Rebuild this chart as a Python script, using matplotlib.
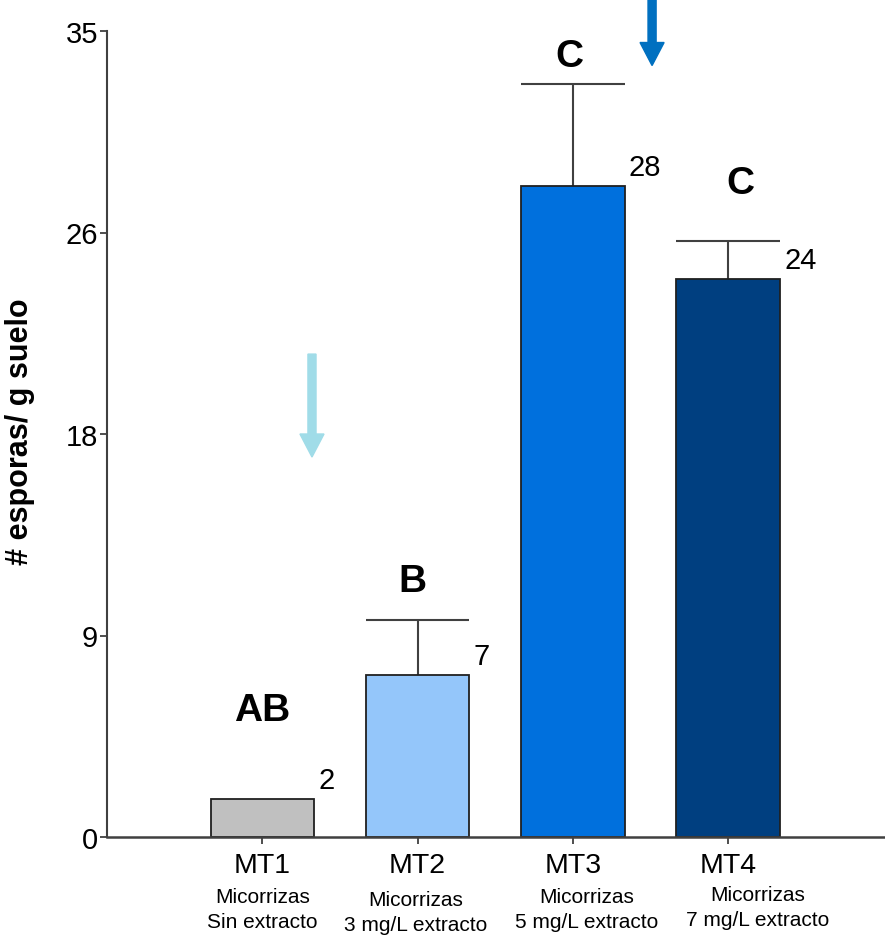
import matplotlib.pyplot as plt
import numpy as np

plt.rcParams['font.family'] = ['Liberation Sans', 'DejaVu Sans']

# data
groups = ['MT1', 'MT2', 'MT3', 'MT4']
subtitles = ['Micorrizas\nSin extracto', 'Micorrizas\n3 mg/L extracto',
             'Micorrizas\n5 mg/L extracto', 'Micorrizas\n7 mg/L extracto']
means = [1.65, 7.03, 28.27, 24.23]
errors = [0.0, 2.39, 4.43, 1.65]
value_labels = ['2', '7', '28', '24']
letters = ['AB', 'B', 'C', 'C']
letter_y = [5.5, 11.1, 33.9, 28.4]
colors = ['#C0C0C0', '#94C6FA', '#0070DD', '#003F80']
yticks = np.linspace(0, 35, 5)
ytick_labels = ['0', '9', '18', '26', '35']

fig = plt.figure(figsize=(8.85, 9.37), dpi=100)
ax = fig.add_axes([107 / 885, 99 / 937, 778 / 885, 806 / 937])

x = np.arange(len(groups))
ax.bar(x, means, width=0.667, color=colors, edgecolor='#202020', linewidth=1.3, zorder=2)

# upper error bars only, cap as wide as the bar
for xi, m, e in zip(x, means, errors):
    if e > 0:
        ax.vlines(xi, m, m + e, color='#404040', linewidth=1.5, zorder=1)
        ax.hlines(m + e, xi - 0.333, xi + 0.333, color='#404040', linewidth=1.5, zorder=1)

# value labels next to bars
for xi, m, lab in zip(x, means, value_labels):
    ax.annotate(lab, (xi + 0.36, m), xytext=(0, 13.5), textcoords='offset points',
                ha='left', va='center', fontsize=21)

# significance letters
letter_dx = [0.0, -0.03, -0.02, 0.08]
for xi, dx, ly, lt in zip(x, letter_dx, letter_y, letters):
    ax.text(xi + dx, ly, lt, ha='center', va='center', fontsize=28, fontweight='bold')

# arrows
ax.arrow(0.32, 20.97, 0, -4.47, width=0.052, head_width=0.155, head_length=1.0,
         length_includes_head=True, color='#A0DCE8', clip_on=False, zorder=3)
ax.arrow(2.51, 36.6, 0, -3.1, width=0.052, head_width=0.155, head_length=1.0,
         length_includes_head=True, color='#0070C0', clip_on=False, zorder=3)

ax.set_xlim(-1.0, 4.01)
ax.set_ylim(0, 35)
ax.set_yticks(yticks)
ax.set_yticklabels(ytick_labels, fontsize=21)
ax.set_xticks(x)
ax.set_xticklabels(groups, fontsize=20.5)
ax.tick_params(axis='y', length=5, width=1.3, color='#404040', pad=1.5)
ax.tick_params(axis='x', length=5, width=1.3, color='#404040', pad=6)

# group subtitles below tick labels
sub_dx = [0.0, -0.01, 0.09, 0.19]
sub_dy = [-72, -75, -72, -70]
for xi, dx, dy, s in zip(x, sub_dx, sub_dy, subtitles):
    ax.annotate(s, (xi + dx, 0), xycoords=('data', 'axes fraction'),
                xytext=(0, dy), textcoords='offset pixels',
                ha='center', va='center', fontsize=15, linespacing=1.45)

for side in ['top', 'right']:
    ax.spines[side].set_visible(False)
ax.spines['left'].set_color('#404040')
ax.spines['bottom'].set_color('#404040')
ax.spines['left'].set_linewidth(1.5)
ax.spines['bottom'].set_linewidth(1.8)

fig.text(20 / 885, 1 - 432 / 937, '# esporas/ g suelo', rotation=90,
         ha='center', va='center', fontsize=22, fontweight='bold')

fig.savefig('out.png', dpi=100)
